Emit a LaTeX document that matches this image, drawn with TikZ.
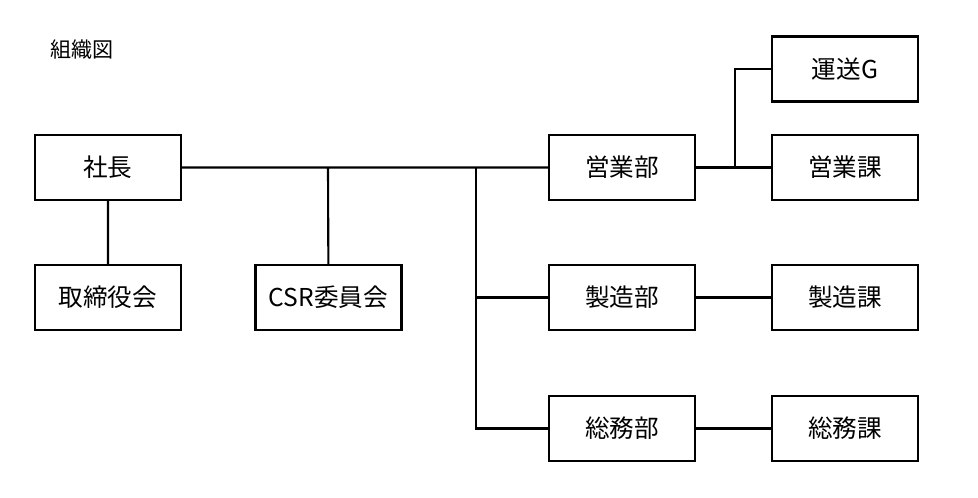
\documentclass[tikz,border=0pt]{standalone}
\usepackage{fontspec}
\setmainfont{Liberation Sans}
\newfontfamily\cjk{Noto Sans CJK JP}
\tikzset{
	boxstyle/.style={rectangle,draw=black,line width=1.2pt,minimum width=2.92cm,minimum height=1.3cm,inner sep=0pt,font=\cjk\fontsize{14}{16}\selectfont},
	linestyle/.style={line width=1.2pt}
}
\begin{document}
\begin{tikzpicture}
	\useasboundingbox (0,0) rectangle (19.56,-9.96);
	\node[font=\cjk\fontsize{12}{14}\selectfont] (title) at (1.64,-1.0) {組織図};
	\node[boxstyle] (pres) at (2.16,-3.35) {社長};
	\node[boxstyle] (board) at (2.16,-5.95) {取締役会};
	\node[boxstyle] (csr) at (6.57,-5.95) {CSR委員会};
	\node[boxstyle] (salesd) at (12.44,-3.35) {営業部};
	\node[boxstyle] (mfgd) at (12.44,-5.95) {製造部};
	\node[boxstyle] (admd) at (12.44,-8.57) {総務部};
	\node[boxstyle] (trans) at (16.9,-1.38) {運送G};
	\node[boxstyle] (salesk) at (16.9,-3.35) {営業課};
	\node[boxstyle] (mfgk) at (16.9,-5.95) {製造課};
	\node[boxstyle] (admk) at (16.9,-8.57) {総務課};
	\coordinate (j1) at (6.56,-3.35);
	\coordinate (j2) at (9.52,-3.35);
	\coordinate (j3) at (14.7,-3.35);
	\draw[linestyle] (pres)--(salesd) (pres)--(board) (j1)--(csr);
	\draw[linestyle] (j2)|-(mfgd) (j2)|-(admd);
	\draw[linestyle] (salesd)--(salesk) (j3)|-(trans);
	\draw[linestyle] (mfgd)--(mfgk) (admd)--(admk);
\end{tikzpicture}
\end{document}
